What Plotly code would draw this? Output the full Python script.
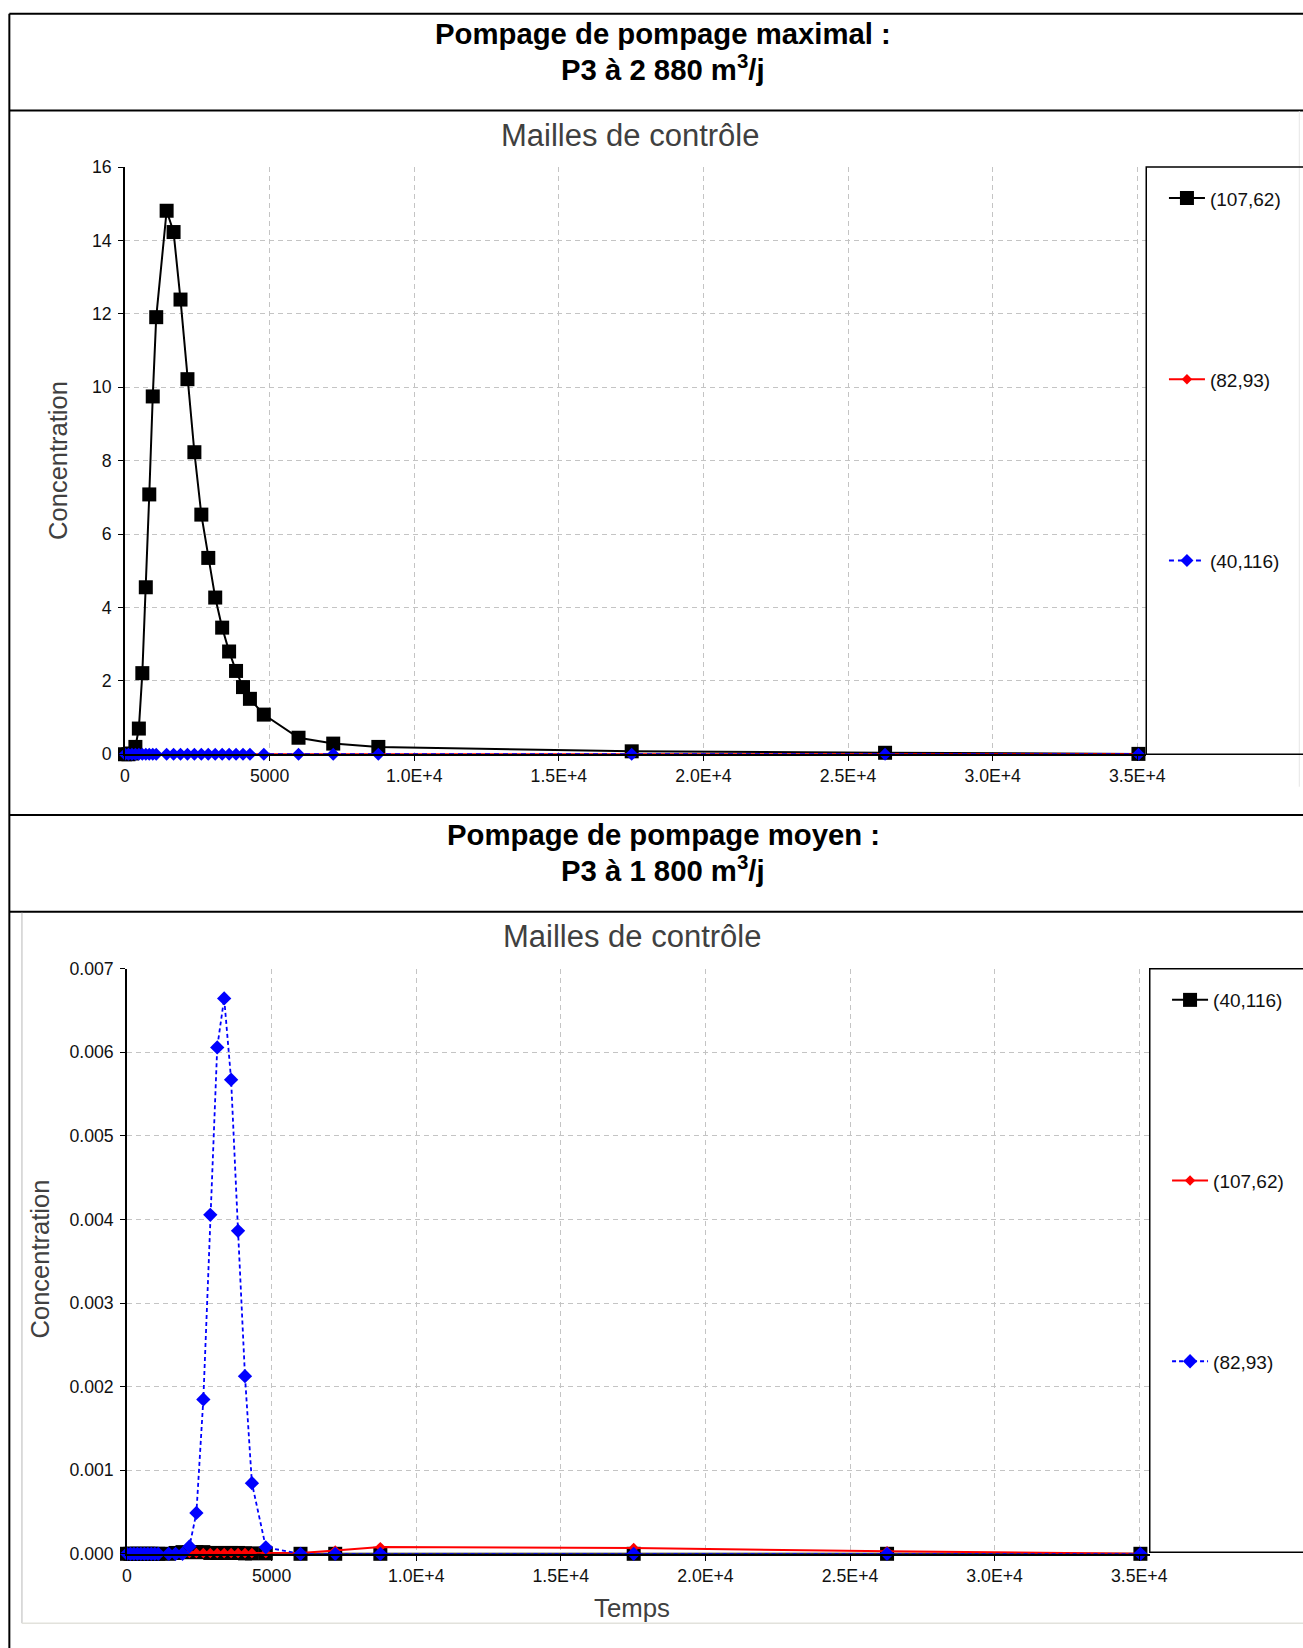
import plotly.graph_objects as go

# figure canvas (slightly larger than the 1303x1648 window so it fills the capture)
W, H = 1330, 1672

# ---------------- data ----------------
TIME = [0, 120, 240, 360, 480, 600, 720, 840, 960, 1080, 1440, 1680, 1920, 2160,
        2400, 2640, 2880, 3120, 3360, 3600, 3840, 4080, 4320, 4800, 6000, 7200,
        8760, 17520, 26280, 35040]

# Pompage maximal (P3 a 2 880 m3/j)
MAX_107_62 = [0, 0, 0.02, 0.2, 0.7, 2.21, 4.55, 7.08, 9.75, 11.91, 14.81, 14.23,
              12.39, 10.22, 8.23, 6.53, 5.35, 4.27, 3.45, 2.80, 2.27, 1.83, 1.51,
              1.08, 0.45, 0.29, 0.20, 0.08, 0.04, 0.01]
MAX_82_93 = [0, 0, 0, 0, 0, 0, 0, 0, 0, 0, 0, 0, 0, 0, 0, 0, 0, 0, 0, 0, 0, 0, 0,
             0, 0, 0, 0, 0, 0, 0]
MAX_40_116 = [0, 0, 0, 0, 0, 0, 0, 0, 0, 0, 0, 0, 0, 0, 0, 0, 0, 0, 0, 0, 0, 0, 0,
              0, 0, 0, 0, 0, 0, 0]

# Pompage moyen (P3 a 1 800 m3/j)
MOY_40_116 = [0, 0, 0, 0, 0, 0, 0, 0, 0, 0, 0, 0.00001, 0.00002, 0.00002, 0.00002,
              0.00002, 0.00001, 0.00001, 0.00001, 0.00001, 0.00001, 0.000005,
              0.000005, 0.000005, 0, 0, 0, 0, 0, 0]
MOY_107_62 = [0, 0, 0, 0, 0, 0, 0, 0, 0, 0, 0, 0, 0, 0.00001, 0.00001, 0.00001,
              0.00001, 0.00001, 0.00001, 0.00001, 0.00001, 0.00001, 0.00001,
              0.00001, 0.00001, 0.00004, 0.00008, 0.00007, 0.00003, 0]
MOY_82_93 = [0, 0, 0, 0, 0, 0, 0, 0, 0, 0, 0, 0, 0, 0.000088, 0.000489, 0.001847,
             0.004055, 0.006058, 0.006644, 0.005672, 0.003864, 0.002125, 0.000845,
             0.000078, 0, 0, 0, 0, 0, 0]

X_TICKS = [0, 5000, 10000, 15000, 20000, 25000, 30000, 35000]
X_LABELS = ["0", "5000", "1.0E+4", "1.5E+4", "2.0E+4", "2.5E+4", "3.0E+4", "3.5E+4"]
Y1_TICKS = [0, 2, 4, 6, 8, 10, 12, 14, 16]
Y1_LABELS = ["0", "2", "4", "6", "8", "10", "12", "14", "16"]
Y2_TICKS = [0, 0.001, 0.002, 0.003, 0.004, 0.005, 0.006, 0.007]
Y2_LABELS = ["0.000", "0.001", "0.002", "0.003", "0.004", "0.005", "0.006", "0.007"]

TITLE1 = ["<b>Pompage de pompage maximal :</b>", "<b>P3 à 2 880 m<sup>3</sup>/j</b>"]
TITLE2 = ["<b>Pompage de pompage moyen :</b>", "<b>P3 à 1 800 m<sup>3</sup>/j</b>"]
CHART_TITLE = "Mailles de contrôle"
Y_TITLE = "Concentration"
X_TITLE = "Temps"

# ---------------- helpers (target pixel -> paper coordinate) ----------------
AX, SX = 4.05, 0.9817
AY, SY = 8.83, 0.9886


def px(x):
    return ((x - AX) / SX) / W


def py(y):
    return 1 - ((y - AY) / SY) / H


FONT = "Liberation Sans, Arial, sans-serif"
BLACK, RED, BLUE = "#000000", "#ff0000", "#0000ff"

fig = go.Figure()

# ---------------- top chart ----------------
fig.add_trace(go.Scatter(x=TIME, y=MAX_107_62, name="(107,62)", mode="lines+markers",
                         line=dict(color=BLACK, width=2),
                         marker=dict(symbol="square", size=14, color=BLACK),
                         xaxis="x", yaxis="y", legend="legend", legendgroup="a1",
                         cliponaxis=False))
fig.add_trace(go.Scatter(x=TIME, y=MAX_82_93, name="(82,93)", mode="lines+markers",
                         line=dict(color=RED, width=2),
                         marker=dict(symbol="diamond", size=8, color=RED),
                         xaxis="x", yaxis="y", legend="legend", legendgroup="a2",
                         cliponaxis=False))
fig.add_trace(go.Scatter(x=TIME, y=MAX_40_116, name="(40,116)", mode="lines+markers",
                         line=dict(color=BLUE, width=2, dash="5px,4px"),
                         marker=dict(symbol="diamond", size=10, color=BLUE),
                         xaxis="x", yaxis="y", legend="legend", legendgroup="a3",
                         cliponaxis=False))

# ---------------- bottom chart ----------------
fig.add_trace(go.Scatter(x=TIME, y=MOY_40_116, name="(40,116)", mode="lines+markers",
                         line=dict(color=BLACK, width=2),
                         marker=dict(symbol="square", size=14, color=BLACK),
                         xaxis="x2", yaxis="y2", legend="legend2", legendgroup="b1",
                         cliponaxis=False))
fig.add_trace(go.Scatter(x=TIME, y=MOY_107_62, name="(107,62)", mode="lines+markers",
                         line=dict(color=RED, width=2),
                         marker=dict(symbol="diamond", size=8, color=RED),
                         xaxis="x2", yaxis="y2", legend="legend2", legendgroup="b2",
                         cliponaxis=False))
fig.add_trace(go.Scatter(x=TIME, y=MOY_82_93, name="(82,93)", mode="lines+markers",
                         line=dict(color=BLUE, width=1.8, dash="4px,3px"),
                         marker=dict(symbol="diamond", size=11, color=BLUE),
                         xaxis="x2", yaxis="y2", legend="legend2", legendgroup="b3",
                         cliponaxis=False))

axis_common = dict(showline=True, linecolor=BLACK, linewidth=1.5, ticks="outside",
                   ticklen=5, tickcolor=BLACK, tickwidth=1, showgrid=True,
                   gridcolor="#c4c4c4", gridwidth=1, griddash="5px,4px",
                   zeroline=False, tickfont=dict(family=FONT, size=17.7, color="#111111"),
                   fixedrange=True)

fig.update_layout(
    width=W, height=H, margin=dict(l=0, r=0, t=0, b=0), autosize=False,
    paper_bgcolor="white", plot_bgcolor="white",
    xaxis=dict(domain=[px(124), px(1145)], range=[0, 35310], anchor="y",
               tickvals=X_TICKS, ticktext=X_LABELS, **axis_common),
    yaxis=dict(domain=[py(753.5), py(166)], range=[0, 16], anchor="x",
               tickvals=Y1_TICKS, ticktext=Y1_LABELS, ticklabelstandoff=3,
               **axis_common),
    xaxis2=dict(domain=[px(126), px(1148.5)], range=[0, 35363], anchor="y2",
                tickvals=X_TICKS, ticktext=X_LABELS, **axis_common),
    yaxis2=dict(domain=[py(1553.5), py(968)], range=[0, 0.007], anchor="x2",
                tickvals=Y2_TICKS, ticktext=Y2_LABELS, ticklabelstandoff=3,
                **axis_common),
    legend=dict(x=px(1162.7), y=py(178.2), xanchor="left", yanchor="top",
                bgcolor="rgba(0,0,0,0)", borderwidth=0, tracegroupgap=153.5,
                itemwidth=36,
                font=dict(family=FONT, size=19, color="#111111")),
    legend2=dict(x=px(1165.8), y=py(980.4), xanchor="left", yanchor="top",
                 bgcolor="rgba(0,0,0,0)", borderwidth=0, tracegroupgap=153,
                 itemwidth=36,
                 font=dict(family=FONT, size=19, color="#111111")),
    showlegend=True,
)

# ---------------- frames / boxes ----------------
shapes = []
for yy in (12.6, 109.3, 814.4, 911):
    shapes.append(dict(type="line", xref="paper", yref="paper", x0=px(8.4), x1=1.0,
                       y0=py(yy), y1=py(yy), line=dict(color=BLACK, width=2)))
shapes.append(dict(type="line", xref="paper", yref="paper", x0=px(8.4), x1=px(8.4),
                   y0=py(12.6), y1=0, line=dict(color=BLACK, width=2)))
# bottom chart window border
shapes.append(dict(type="line", xref="paper", yref="paper", x0=px(21), x1=px(21),
                   y0=py(912), y1=py(1623), line=dict(color="#b8b8b8", width=1)))
shapes.append(dict(type="line", xref="paper", yref="paper", x0=px(21), x1=1.0,
                   y0=py(1623), y1=py(1623), line=dict(color="#e2e2dc", width=1.5)))
# top chart window right border
shapes.append(dict(type="line", xref="paper", yref="paper", x0=px(1298), x1=px(1298),
                   y0=py(110), y1=py(786), line=dict(color="#e6e6e6", width=1)))
# legend boxes
shapes.append(dict(type="rect", xref="paper", yref="paper", x0=px(1145), x1=1.02,
                   y0=py(753.5), y1=py(166), line=dict(color=BLACK, width=1.5)))
shapes.append(dict(type="rect", xref="paper", yref="paper", x0=px(1148.5), x1=1.02,
                   y0=py(1552), y1=py(968), line=dict(color=BLACK, width=1.5)))
fig.update_layout(shapes=shapes)

# ---------------- texts ----------------
ann = []
def text(x, y, s, size, color=BLACK, angle=0):
    ann.append(dict(x=px(x), y=py(y), xref="paper", yref="paper", text=s,
                    showarrow=False, xanchor="center", yanchor="middle",
                    textangle=angle, font=dict(family=FONT, size=size, color=color)))

text(662, 32.6, TITLE1[0], 29.3)
text(662, 66.2, TITLE1[1], 29.3)
text(662, 834, TITLE2[0], 29.3)
text(662, 868, TITLE2[1], 29.3)
text(628.4, 134.5, CHART_TITLE, 31, "#404040")
text(630.5, 936, CHART_TITLE, 31, "#404040")
text(57, 459, Y_TITLE, 25.5, "#404040", -90)
text(40, 1258, Y_TITLE, 25.5, "#404040", -90)
text(630.5, 1608, X_TITLE, 25.8, "#404040")
fig.update_layout(annotations=ann)

POST = (
    "document.documentElement.style.margin='0';"
    "document.documentElement.style.padding='0';"
    "document.documentElement.style.overflow='hidden';"
    "document.body.style.margin='0';"
    "document.body.style.padding='0';"
    "document.body.style.overflow='hidden';"
    "var gd=document.getElementById('{plot_id}');"
    "gd.style.position='absolute';gd.style.left='0px';gd.style.top='0px';"
)

fig.write_html("out.html", config={"displayModeBar": False, "responsive": False},
               post_script=POST)
